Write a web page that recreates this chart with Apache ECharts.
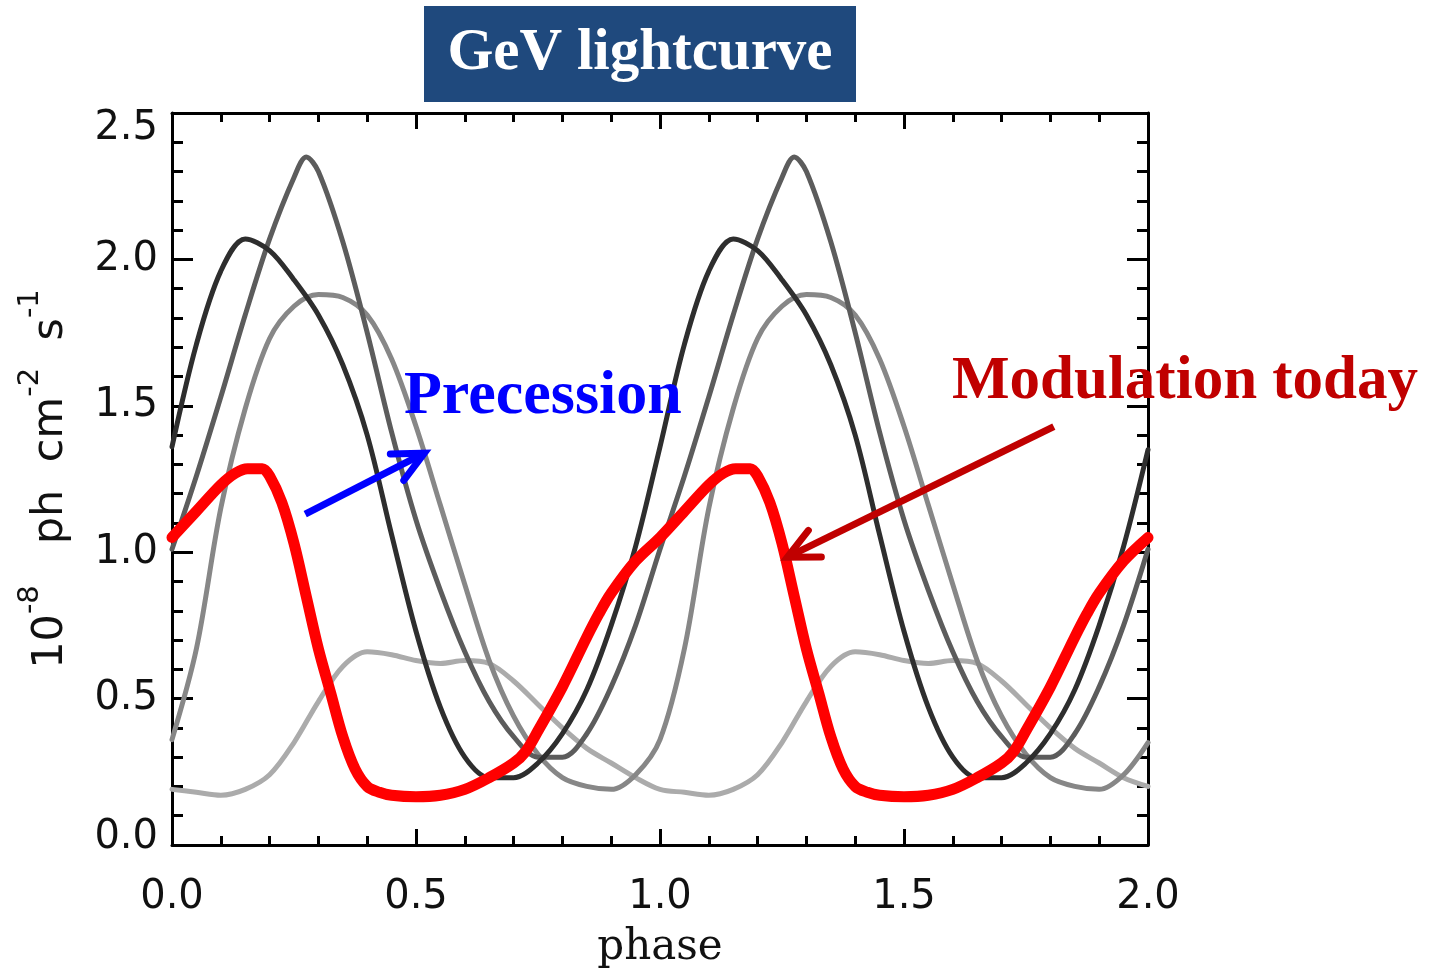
<!DOCTYPE html>
<html><head><meta charset="utf-8">
<script src="https://cdn.jsdelivr.net/npm/echarts@6/dist/echarts.min.js"></script>
<style>html,body{margin:0;padding:0;background:#fff}#c{width:1434px;height:974px}</style>
</head><body><div id="c"></div>
<script>
// ---- data ----
const phaseGrid = [0.00,0.05,0.10,0.15,0.20,0.25,0.30,0.35,0.40,0.45,0.50,0.55,0.60,0.65,0.70,0.75,0.80,0.85,0.90,0.95,
                   1.00,1.05,1.10,1.15,1.20,1.25,1.30,1.35,1.40,1.45,1.50,1.55,1.60,1.65,1.70,1.75,1.80,1.85,1.90,1.95,2.00];
const darkCurve = [1.36,1.71,1.96,2.07,2.03,1.93,1.81,1.64,1.40,1.06,0.73,0.47,0.30,0.23,0.23,0.28,0.38,0.53,0.75,1.02,
                   1.36,1.71,1.96,2.07,2.03,1.93,1.81,1.64,1.40,1.06,0.73,0.47,0.30,0.23,0.23,0.28,0.38,0.53,0.75,1.02,1.35];
const mediumPhase = [0.00,0.05,0.10,0.15,0.20,0.25,0.275,0.30,0.35,0.40,0.45,0.50,0.55,0.60,0.65,0.70,0.75,0.80,0.85,0.90,0.95,
                     1.00,1.05,1.10,1.15,1.20,1.25,1.275,1.30,1.35,1.40,1.45,1.50,1.55,1.60,1.65,1.70,1.75,1.80,1.85,1.90,1.95,2.00];
const mediumCurve = [1.01,1.26,1.53,1.81,2.07,2.28,2.35,2.30,2.06,1.75,1.41,1.11,0.87,0.66,0.49,0.37,0.30,0.30,0.38,0.54,0.75,
                     1.01,1.26,1.53,1.81,2.07,2.28,2.35,2.30,2.06,1.75,1.41,1.11,0.87,0.66,0.49,0.37,0.30,0.30,0.38,0.54,0.75,1.01];
const grayCurve = [0.36,0.67,1.15,1.49,1.73,1.84,1.88,1.87,1.81,1.66,1.43,1.16,0.89,0.63,0.44,0.31,0.23,0.20,0.19,0.24,
                   0.36,0.67,1.15,1.49,1.73,1.84,1.88,1.87,1.81,1.66,1.43,1.16,0.89,0.63,0.44,0.31,0.23,0.20,0.19,0.24,0.35];
const lightCurve = [0.19,0.18,0.17,0.19,0.24,0.35,0.49,0.61,0.66,0.65,0.63,0.62,0.63,0.62,0.56,0.48,0.40,0.33,0.28,0.23,
                    0.19,0.18,0.17,0.19,0.24,0.35,0.49,0.61,0.66,0.65,0.63,0.62,0.63,0.62,0.56,0.48,0.40,0.33,0.28,0.23,0.20];
const redPhase = [0.00,0.05,0.10,0.13,0.155,0.185,0.20,0.225,0.25,0.275,0.30,0.325,0.35,0.375,0.40,0.425,0.45,0.50,0.55,0.60,0.65,0.70,0.725,0.75,0.80,0.85,0.875,0.90,0.95,
                  1.00,1.05,1.10,1.13,1.155,1.185,1.20,1.225,1.25,1.275,1.30,1.325,1.35,1.375,1.40,1.425,1.45,1.50,1.55,1.60,1.65,1.70,1.725,1.75,1.80,1.85,1.875,1.90,1.95,2.00];
const redCurve = [1.05,1.14,1.23,1.27,1.285,1.285,1.26,1.17,1.03,0.85,0.67,0.52,0.37,0.26,0.20,0.18,0.17,0.165,0.17,0.19,0.23,0.28,0.32,0.39,0.54,0.71,0.79,0.86,0.97,
                  1.05,1.14,1.23,1.27,1.285,1.285,1.26,1.17,1.03,0.85,0.67,0.52,0.37,0.26,0.20,0.18,0.17,0.165,0.17,0.19,0.23,0.28,0.32,0.39,0.54,0.71,0.79,0.86,0.97,1.05];
const xTickLabels = ['0.0','0.5','1.0','1.5','2.0'];
const yTickLabels = ['0.0','0.5','1.0','1.5','2.0','2.5'];
// annotation arrows in data coordinates
const arrowPrecession = {from:[0.273,1.13], to:[0.517,1.338]};
const arrowToday = {from:[1.807,1.429], to:[1.261,0.983]};

function pairs(xs, ys){ return xs.map((x,i)=>[x, ys[i]]); }

const chart = echarts.init(document.getElementById('c'), null, {renderer:'canvas'});
const tickStyle = {color:'#000', width:3};
const lblFont = {fontSize:40, fontFamily:'DejaVu Sans', color:'#111'};
function xAx(pos, labels){
  return {type:'value', min:0, max:2, interval:0.5, position:pos, gridIndex:0,
    axisLine:{show:true, onZero:false, lineStyle:{color:'#000', width:3}},
    axisTick:{show:true, inside:true, length:16, lineStyle:tickStyle},
    minorTick:{show:true, splitNumber:5, length:9, lineStyle:tickStyle},
    splitLine:{show:false}, minorSplitLine:{show:false},
    axisLabel: labels ? Object.assign({margin:33, formatter:(v)=>xTickLabels[Math.round(v/0.5)]}, lblFont) : {show:false},
    name: labels ? 'phase' : '', nameLocation:'middle', nameGap:82,
    nameTextStyle:{fontSize:42, fontFamily:'DejaVu Serif', color:'#111'}
  };
}
function yAx(pos, labels){
  return {type:'value', min:0, max:2.5, interval:0.5, position:pos, gridIndex:0,
    axisLine:{show:true, onZero:false, lineStyle:{color:'#000', width:3}},
    axisTick:{show:true, inside:true, length:21, lineStyle:tickStyle},
    minorTick:{show:true, splitNumber:5, length:11, lineStyle:tickStyle},
    splitLine:{show:false}, minorSplitLine:{show:false},
    axisLabel: labels ? Object.assign({margin:14, lineHeight:32, verticalAlignMinLabel:'bottom', verticalAlignMaxLabel:'top',
      formatter:(v)=>{ const i = Math.round(v/0.5); return i === 0 ? '{lo|' + yTickLabels[i] + '}' : yTickLabels[i]; },
      rich:{lo:{fontSize:40, fontFamily:'DejaVu Sans', color:'#111', lineHeight:14}}}, lblFont) : {show:false},
    name: labels ? '{n|10}{s|-8}{n|   ph  cm}{s|-2}{n|  s}{s|-1}' : '',
    nameLocation:'middle', nameGap:100,
    nameTextStyle:{rich:{
      n:{fontSize:43, fontFamily:'DejaVu Sans', color:'#111', lineHeight:56, verticalAlign:'bottom'},
      s:{fontSize:29, fontFamily:'DejaVu Sans', color:'#111', lineHeight:30, verticalAlign:'top'}
    }}
  };
}
function line(xs, ys, color, width, z){
  return {type:'line', xAxisIndex:0, yAxisIndex:0, data:pairs(xs, ys), showSymbol:false, symbol:'none',
    smooth:0.33, lineStyle:{color:color, width:width, cap:'round', join:'round'}, z:z, silent:true, animation:false};
}
chart.setOption({
  animation:false,
  backgroundColor:'#fff',
  grid:{left:172, right:286, top:113, bottom:125, containLabel:false},
  xAxis:[xAx('bottom', true), xAx('top', false)],
  yAxis:[yAx('left', true), yAx('right', false)],
  series:[
    line(phaseGrid, lightCurve, '#ababab', 5, 2),
    line(phaseGrid, grayCurve, '#878787', 5, 3),
    line(mediumPhase, mediumCurve, '#5c5c5c', 5, 4),
    line(phaseGrid, darkCurve, '#2e2e2e', 5, 5),
    line(redPhase, redCurve, '#ff0000', 11, 6)
  ]
});

function arrowGraphics(a, color, id){
  const p0 = chart.convertToPixel({gridIndex:0}, a.from);
  const p1 = chart.convertToPixel({gridIndex:0}, a.to);
  const ang = Math.atan2(p1[1]-p0[1], p1[0]-p0[0]) + Math.PI;
  const L = 34, spread = 0.45;
  const h1 = [p1[0] + L*Math.cos(ang+spread), p1[1] + L*Math.sin(ang+spread)];
  const h2 = [p1[0] + L*Math.cos(ang-spread), p1[1] + L*Math.sin(ang-spread)];
  return [
    {type:'line', id:id+'s', z:100, shape:{x1:p0[0], y1:p0[1], x2:p1[0], y2:p1[1]}, style:{stroke:color, lineWidth:7, lineCap:'butt'}},
    {type:'polyline', id:id+'h', z:100, shape:{points:[h1, p1, h2]}, style:{stroke:color, lineWidth:7, lineCap:'round', lineJoin:'miter', fill:null}}
  ];
}

chart.setOption({
  graphic:[
    {type:'rect', id:'tbox', z:100, shape:{x:424, y:6, width:432, height:96}, style:{fill:'#1f497d'}},
    {type:'text', id:'ttxt', z:101, style:{text:'GeV lightcurve', x:640, y:54, align:'center', verticalAlign:'middle',
      font:'bold 59px "Liberation Serif"', fill:'#ffffff'}},
    {type:'text', id:'prec', z:101, style:{text:'Precession', x:404, y:397, align:'left', verticalAlign:'middle',
      font:'bold 62px "Liberation Serif"', fill:'#0000ff'}},
    {type:'text', id:'modt', z:101, style:{text:'Modulation today', x:952, y:382, align:'left', verticalAlign:'middle',
      font:'bold 61px "Liberation Serif"', fill:'#c00000'}}
  ].concat(arrowGraphics(arrowPrecession, '#0000ff', 'a1'), arrowGraphics(arrowToday, '#c00000', 'a2'))
});
</script>
</body></html>
